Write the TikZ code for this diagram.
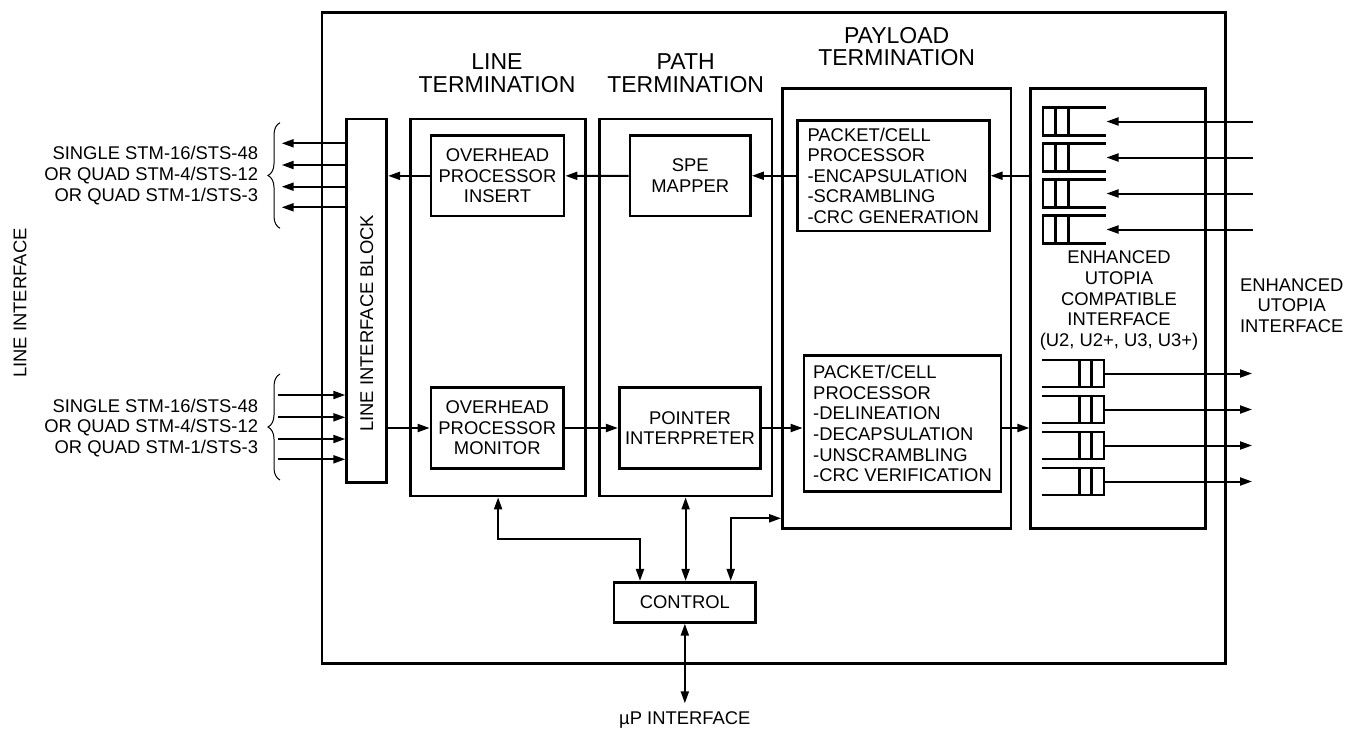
\documentclass[tikz,border=0pt]{standalone}
\usepackage{fontspec}
\setmainfont{Liberation Sans}
\usetikzlibrary{arrows.meta,decorations.pathreplacing}
\begin{document}
\begin{tikzpicture}[x=1pt,y=-1pt,
  every node/.append style={font=\fontsize{18.4}{20.6}\selectfont, inner sep=0pt},
  blk/.style={draw, line width=2.8pt, inner sep=0pt, align=center},
  hd/.style={font=\fontsize{23}{22.5}\selectfont, align=center},
  arr/.style={line width=2pt, -{Triangle[length=12pt,width=8pt]}},
  biarr/.style={line width=2pt, {Triangle[length=12pt,width=8pt]}-{Triangle[length=12pt,width=8pt]}},
  fifo/.style={line width=2.8pt},
  bracestyle/.style={line width=1pt, decorate, decoration={brace, amplitude=12pt}}
]
\useasboundingbox (0,0) rectangle (1346,728);
\fill[white] (0,0) rectangle (1346,728);

% outer chip
\node[blk, minimum width=903.5pt, minimum height=650.8pt] (chip) at (773.75,338.1) {};

% big blocks
\node[blk, minimum width=40pt, minimum height=363.7pt] (lib) at (366.7,300.8) {};
\node[blk, minimum width=175.3pt, minimum height=377pt] (lt) at (498.1,307.5) {};
\node[blk, minimum width=172.8pt, minimum height=377pt] (pt) at (685.6,307.5) {};
\node[blk, minimum width=228.5pt, minimum height=439.8pt] (pl) at (896.75,308.4) {};
\node[blk, minimum width=174.7pt, minimum height=439.8pt] (ut) at (1118.15,308.4) {};

% headings
\node[hd] (lthd) at (497,73.3) {LINE\\TERMINATION};
\node[hd] (pthd) at (685.7,73.3) {PATH\\TERMINATION};
\node[hd] (plhd) at (896.7,46.5) {PAYLOAD\\TERMINATION};

% inner blocks
\node[blk, minimum width=133pt, minimum height=80.3pt] (ohi) at (497.5,175.85) {OVERHEAD\\PROCESSOR\\INSERT};
\node[blk, minimum width=120.5pt, minimum height=80.5pt] (spe) at (690.25,175.75) {SPE\\MAPPER};
\node[blk, align=left, minimum width=191.9pt, minimum height=110.5pt] (pct) at (893.25,175.75)
  {PACKET/CELL\\PROCESSOR\\-ENCAPSULATION\\-SCRAMBLING\\-CRC GENERATION};
\node[blk, minimum width=132.5pt, minimum height=80.6pt] (ohm) at (497.25,428) {OVERHEAD\\PROCESSOR\\MONITOR};
\node[blk, minimum width=141.4pt, minimum height=80.6pt] (pi) at (690,428) {POINTER\\INTERPRETER};
\node[blk, align=left, minimum width=197pt, minimum height=136pt] (pcb) at (902.5,423.7)
  {PACKET/CELL\\PROCESSOR\\-DELINEATION\\-DECAPSULATION\\-UNSCRAMBLING\\-CRC VERIFICATION};
\node[blk, minimum width=141.7pt, minimum height=40pt] (ctrl) at (684.85,602.3) {CONTROL};

% texts
\node[rotate=90] (libtxt) at (366.7,323.3) {LINE INTERFACE BLOCK};
\node[rotate=90] (litxt) at (20,303) {LINE INTERFACE};
\node[align=center] (uttxt) at (1119,300.5) {ENHANCED\\UTOPIA\\COMPATIBLE\\INTERFACE\\(U2, U2+, U3, U3+)};
\node[align=center] (eutxt) at (1291.7,305.5) {ENHANCED\\UTOPIA\\INTERFACE};
\node[align=right, anchor=east] (lbltop) at (258.3,175.5) {SINGLE STM-16/STS-48\\OR QUAD STM-4/STS-12\\OR QUAD STM-1/STS-3};
\node[align=right, anchor=east] (lblbot) at (258.3,428) {SINGLE STM-16/STS-48\\OR QUAD STM-4/STS-12\\OR QUAD STM-1/STS-3};
\node (uptxt) at (684.85,719.5) {\textmu P INTERFACE};

% braces
\draw[bracestyle] (280,228.3) -- (280,122.7);
\draw[bracestyle] (280,480) -- (280,374);

% transmit path
\draw[arr] (ut.west |- pct.east) -- (pct.east);
\draw[arr] (pct.west) -- (spe.east);
\draw[arr] (spe.west) -- (ohi.east);
\draw[arr] (ohi.west) -- (ohi.west -| lib.east);
\foreach \yy [count=\i] in {143.3,165,186.7,207.3} {
  \coordinate (lo\i) at (281.7,\yy);
  \draw[arr] (lib.west |- lo\i) -- (lo\i);
}

% receive path
\foreach \yy [count=\i] in {395,417.3,439,459.3} {
  \coordinate (li\i) at (278,\yy);
  \draw[arr] (li\i) -- (li\i -| lib.west);
}
\draw[arr] (lib.east |- ohm.west) -- (ohm.west);
\draw[arr] (ohm.east) -- (pi.west);
\draw[arr] (pi.east) -- (pcb.west |- pi.east);
\draw[arr] (pcb.east |- pi.east) -- (ut.west |- pi.east);

% FIFOs (transmit side)
\foreach \t [count=\i] in {107.5,143.5,179.5,215.5} {
  \draw[fifo] (1105.5,\t) -- (1043,\t) -- (1043,\t+28) -- (1105.5,\t+28);
  \draw[fifo] (1055.5,\t) -- (1055.5,\t+28);
  \draw[fifo] (1068.3,\t) -- (1068.3,\t+28);
  \coordinate (ui\i) at (1253,\t+14);
  \coordinate (fi\i) at (1106.5,\t+14);
  \draw[arr] (ui\i) -- (fi\i);
}
% FIFOs (receive side)
\foreach \t [count=\i] in {360,396,432,468} {
  \draw[fifo] (1042,\t) -- (1104,\t) -- (1104,\t+27) -- (1042,\t+27);
  \draw[fifo] (1079.5,\t) -- (1079.5,\t+27);
  \draw[fifo] (1091.5,\t) -- (1091.5,\t+27);
  \coordinate (fo\i) at (1104,\t+13.5);
  \coordinate (uo\i) at (1252,\t+13.5);
  \draw[arr] (fo\i) -- (uo\i);
}

% control connections
\coordinate (k1) at (640,539);
\draw[biarr] (lt.south) |- (k1) -- (k1 |- ctrl.north);
\draw[biarr] (pt.south) -- (pt.south |- ctrl.north);
\coordinate (k3) at (730.7,518.3);
\draw[biarr] (k3 |- ctrl.north) -- (k3) -- (k3 -| pl.west);
\coordinate (upend) at (684.85,703.3);
\draw[biarr] (ctrl.south) -- (upend);
\end{tikzpicture}
\end{document}
